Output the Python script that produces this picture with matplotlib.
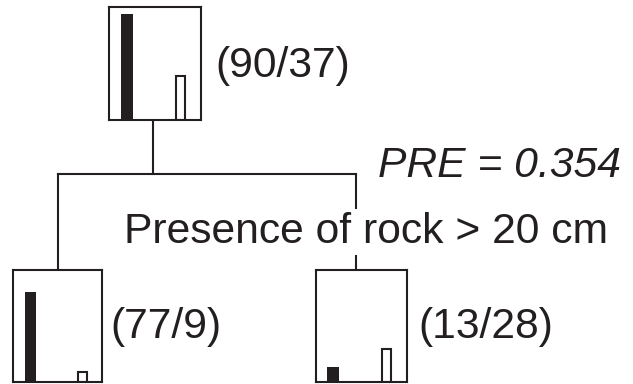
import matplotlib
matplotlib.use("Agg")
import matplotlib.pyplot as plt

# Node class counts (present / absent)
node_names = ["root", "left", "right"]
present_counts = [90, 77, 13]
absent_counts = [37, 9, 28]
split_label = "Presence of rock > 20 cm"
pre_value = 0.354

INK = "#231f20"
W, H = 633, 384
DPI = 100

plt.rcParams["font.family"] = ["Liberation Sans", "DejaVu Sans"]

fig = plt.figure(figsize=(W / DPI, H / DPI), dpi=DPI)

# background axes in pixel coordinates for connectors and labels
bg = fig.add_axes([0, 0, 1, 1])
bg.set_xlim(0, W)
bg.set_ylim(H, 0)
bg.axis("off")

# node box placement (left, top, right, bottom) in pixels
boxes = {
    "root": (109.3, 7.3, 200.7, 120.0),
    "left": (13.3, 270.0, 102.3, 382.3),
    "right": (315.7, 270.0, 406.7, 382.3),
}


def add_node(name, present, absent):
    l, t, r, b = boxes[name]
    ax = fig.add_axes([l / W, 1 - b / H, (r - l) / W, (b - t) / H])
    ax.set_xlim(0, 91)
    ax.set_ylim(0, 95.5)
    ax.bar([17.5], [present], width=12, color=INK, linewidth=0)
    ax.bar([71.0], [absent], width=9, facecolor="white",
           edgecolor=INK, linewidth=1.5)
    ax.set_xticks([])
    ax.set_yticks([])
    for sp in ax.spines.values():
        sp.set_color(INK)
        sp.set_linewidth(1.5)
    return ax


for name, p, a in zip(node_names, present_counts, absent_counts):
    add_node(name, p, a)

# connectors
lw = 1.5
root_cx = 153.3
split_y = 174.3
left_x = 57.8
right_x = 355.5
bg.plot([root_cx, root_cx], [120.0, split_y], color=INK, lw=lw, zorder=1)
bg.plot([left_x, right_x], [split_y, split_y], color=INK, lw=lw, zorder=1,
        solid_capstyle="projecting")
bg.plot([left_x, left_x], [split_y, 270.0], color=INK, lw=lw, zorder=1)
bg.plot([right_x, right_x], [split_y, 270.0], color=INK, lw=lw, zorder=1)

fs = 30.7
bg.text(215, 76.7, f"({present_counts[0]}/{absent_counts[0]})", fontsize=fs,
        color=INK, ha="left", va="baseline")
bg.text(110, 338.3, f"({present_counts[1]}/{absent_counts[1]})", fontsize=fs,
        color=INK, ha="left", va="baseline")
bg.text(418.5, 338.3, f"({present_counts[2]}/{absent_counts[2]})", fontsize=fs,
        color=INK, ha="left", va="baseline")
bg.text(123.5, 243.3, split_label, fontsize=fs, color=INK, ha="left",
        va="baseline", zorder=3,
        bbox=dict(facecolor="white", edgecolor="none", pad=2))
bg.text(378, 176.7, f"PRE = {pre_value:.3f}", fontsize=fs, color=INK,
        ha="left", va="baseline", style="italic", zorder=3)

fig.savefig("out.png", dpi=DPI)
